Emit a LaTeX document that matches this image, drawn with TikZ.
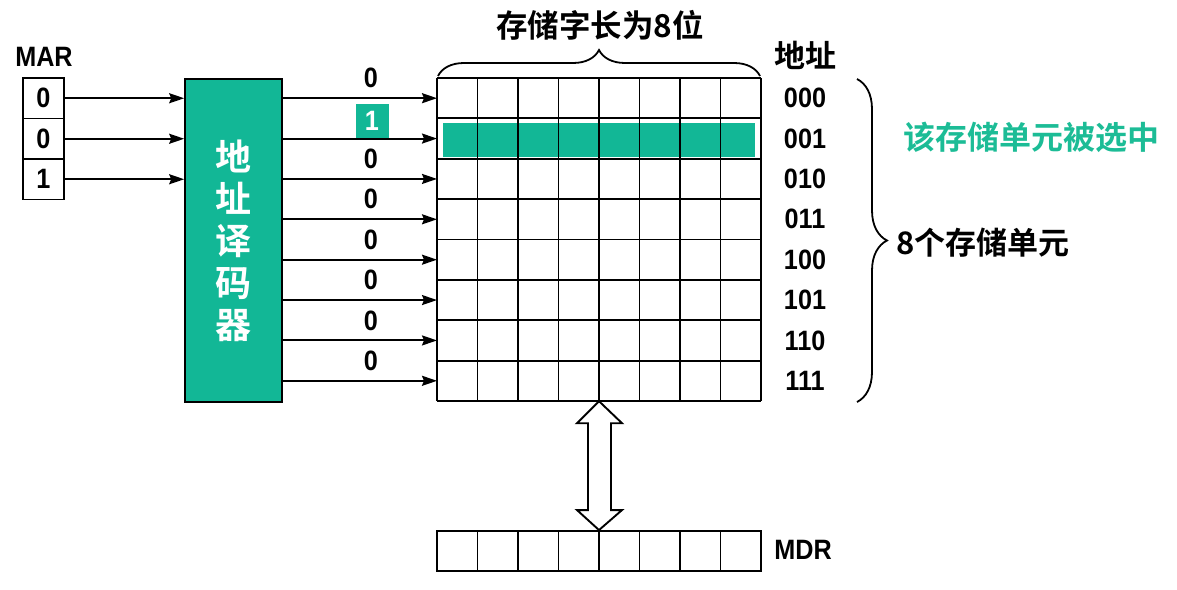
\documentclass[tikz,border=0pt]{standalone}
\usepackage{fontspec}
\setmainfont{Liberation Sans}
\newfontfamily\nar{Liberation Sans}[FakeStretch=0.9]
\newfontfamily\cjk{Noto Sans CJK SC Bold}
\usetikzlibrary{arrows.meta,decorations.pathreplacing}
\definecolor{teal1}{RGB}{18,183,150}
\definecolor{tealtxt}{RGB}{28,188,150}
\begin{document}
\begin{tikzpicture}[x=1pt,y=-1pt,
  arr/.style={line width=1.9pt,-{Stealth[length=15pt,width=10pt,inset=2pt]}},
  num/.style={font=\fontsize{28}{30}\selectfont\nar\bfseries,inner sep=0pt},
  cn/.style={font=\fontsize{31}{34}\selectfont\cjk,inner sep=0pt},
  ln/.style={line width=1.9pt},
  brc/.style={decorate,line width=1.8pt}]
\useasboundingbox (0,0) rectangle (1177,589);
% MAR
\node[num] (mar) at (44,57) {MAR};
\foreach \v [count=\k] in {0,0,1}
  \node[num,draw,line width=1.6pt,minimum width=41pt,minimum height=40.5pt] (m\k) at (43.5,57.75+40.5*\k) {\v};
% decoder
\node[draw,line width=1.6pt,fill=teal1,minimum width=97pt,minimum height=323pt,inner sep=0pt,
      text=white,align=center,font=\fontsize{36}{42}\selectfont\cjk] (dec) at (233.5,240.5)
      {地\\址\\译\\码\\器};
\foreach \k in {1,2,3}
  \draw[arr] (m\k.east) -- (dec.west |- m\k.east);
% memory array
\node[minimum width=324pt,minimum height=323pt,inner sep=0pt] (mem) at (599,239.5) {};
\fill[teal1] (443,123) rectangle (755,157);
\foreach \i in {0,...,8}
  \draw[ln] (437+40.5*\i,78) -- (437+40.5*\i,401);
\foreach \j in {0,...,8}
  \draw[ln] (437,78+40.375*\j) -- (761,78+40.375*\j);
\foreach \j in {1,...,8}
  \coordinate (r\j) at (437,78+40.375*\j-20.19);
\foreach \j in {1,...,8}
  \draw[arr] (dec.east |- r\j) -- (r\j);
% labels on decoder outputs
\foreach \j/\v in {1/0,3/0,4/0,5/0,6/0,7/0,8/0}
  \node[num] (o\j) at ([shift={(-66,-20)}]r\j) {\v};
\node[num,fill=teal1,text=white,minimum width=33pt,minimum height=34pt] (o2) at (372,121) {1};
% addresses
\node[cn] (addr) at (805,55) {地址};
\foreach \a [count=\j] in {000,001,010,011,100,101,110,111}
  \node[num] (a\j) at (805,78+40.375*\j-20.19) {\a};
% braces
\draw[brc,decoration={brace,amplitude=26pt}] (438,76) -- (760,76);
\node[cn,font=\fontsize{31.5}{34}\selectfont\cjk] (width) at (600,25) {存储字长为8位};
\draw[brc,decoration={brace,amplitude=30pt}] (857,79) -- (857,402);
\node[cn,anchor=west] (units) at (896,243) {8个存储单元};
\node[cn,anchor=west,text=tealtxt,font=\fontsize{32}{34}\selectfont\cjk] (sel) at (903,137) {该存储单元被选中};
% MDR
\node[draw,line width=1.9pt,minimum width=324pt,minimum height=40pt,inner sep=0pt] (mdr) at (599,551) {};
\foreach \i in {1,...,7}
  \draw[ln] (437+40.5*\i,531) -- (437+40.5*\i,571);
\node[num] (mdrl) at (803,550) {MDR};
% double arrow
\draw[line width=1.9pt,fill=white,line join=miter]
  (mem.south) -- ([shift={(23,22)}]mem.south) -- ([shift={(12,22)}]mem.south)
  -- ([shift={(12,-20)}]mdr.north) -- ([shift={(23,-20)}]mdr.north) -- (mdr.north)
  -- ([shift={(-22,-20)}]mdr.north) -- ([shift={(-11,-20)}]mdr.north)
  -- ([shift={(-11,22)}]mem.south) -- ([shift={(-22,22)}]mem.south) -- cycle;
\end{tikzpicture}
\end{document}
